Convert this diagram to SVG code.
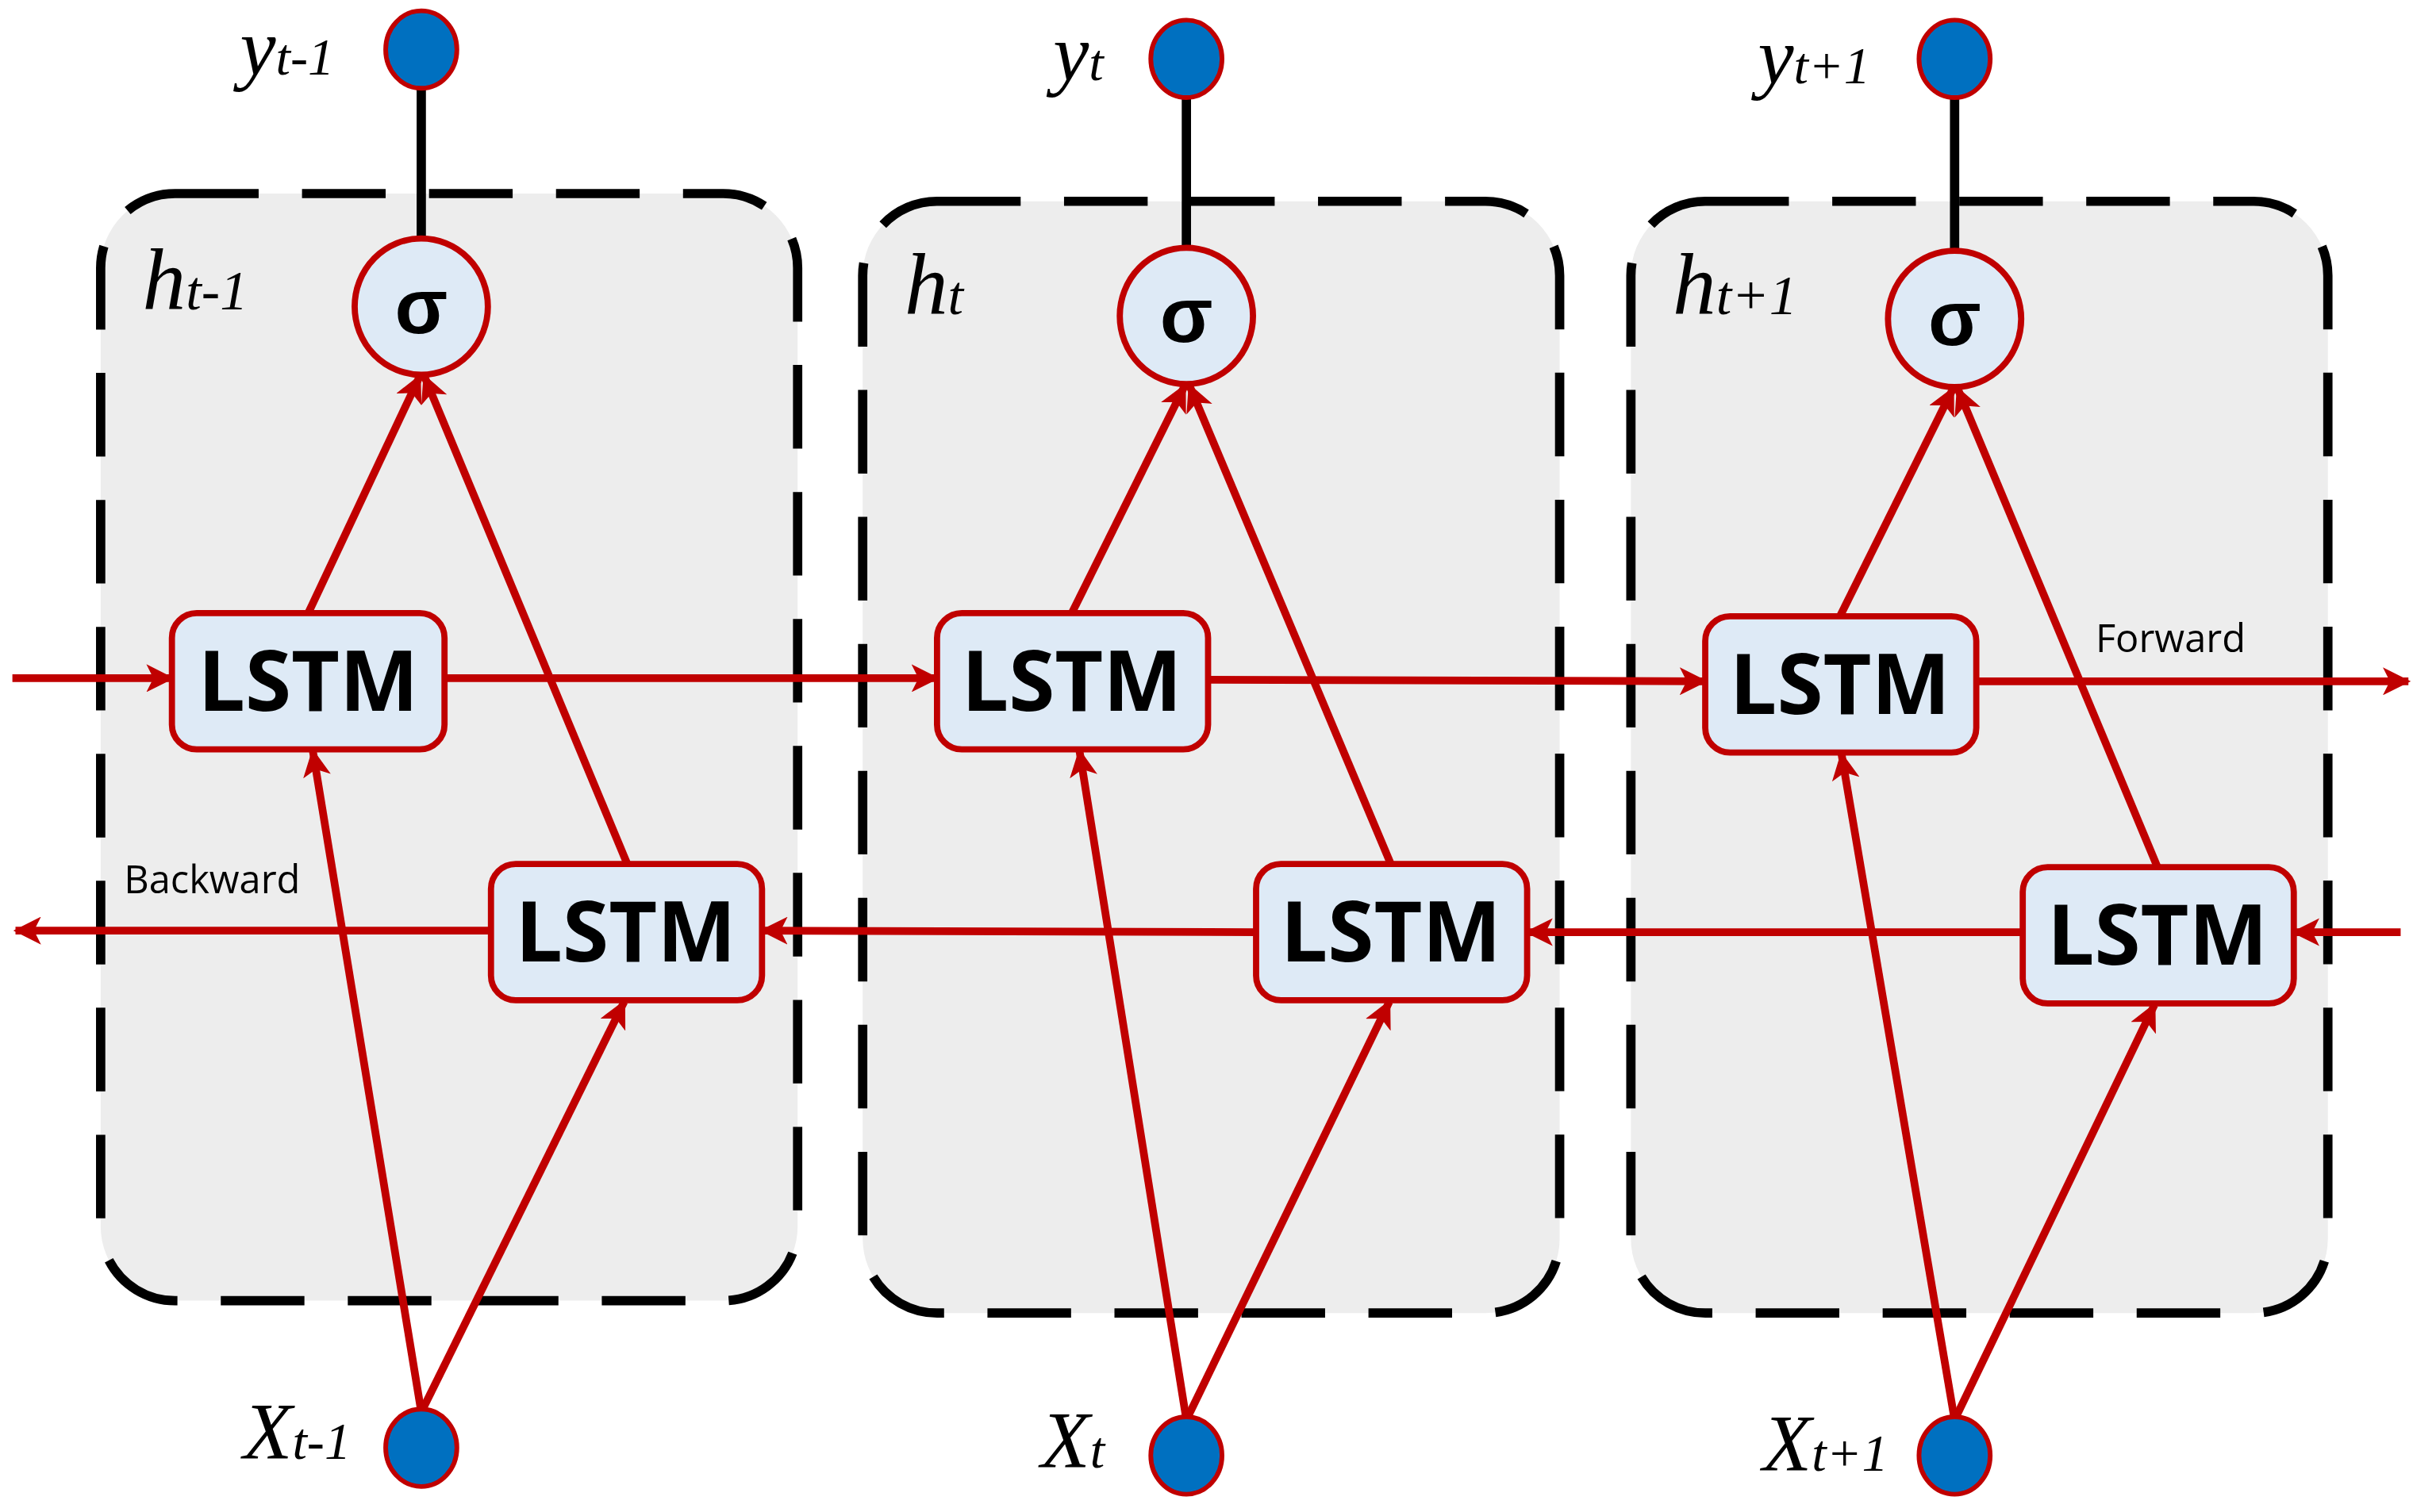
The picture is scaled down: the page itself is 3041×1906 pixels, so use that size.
<svg xmlns="http://www.w3.org/2000/svg" width="3041" height="1906" viewBox="0 0 3041 1906">
<defs>
<marker id="ah" viewBox="0 0 12 12" refX="11" refY="6" markerWidth="18" markerHeight="18" markerUnits="userSpaceOnUse" orient="auto"><path d="M0,0 L12,6 L0,12 L3,6 Z" fill="#C00000"/></marker>
</defs>
<style>
.cell{fill:#EDEDED;stroke:#000;stroke-width:6;stroke-dasharray:54 28}
.box{fill:#DEEAF6;stroke:#C00000;stroke-width:4}
.lbl{font-family:"Open Sans","Liberation Sans",sans-serif;font-weight:bold;font-size:54px;text-anchor:middle;fill:#000}
.sig{font-family:"Liberation Sans",sans-serif;font-weight:bold;font-size:50px;text-anchor:middle}
.io{fill:#0070C0;stroke:#C00000;stroke-width:3}
.ln{stroke:#C00000;stroke-width:5;fill:none;marker-end:url(#ah)}
.it{font-family:"Liberation Serif",serif;font-style:italic;fill:#000}
.sm{font-family:"Open Sans","Liberation Sans",sans-serif;font-size:25px;fill:#000}
</style>
<rect width="3041" height="1906" fill="#fff"/>
<g transform="scale(1.9519)">
<g id="cell1"><rect class="cell" x="65" y="125" width="450" height="715" rx="48"/><text class="it" x="92" y="200" font-size="56">h<tspan font-size="36">t-1</tspan></text></g>
<g id="cell2"><rect class="cell" x="557" y="130" width="450" height="718" rx="48"/><text class="it" x="584" y="203" font-size="56">h<tspan font-size="36">t</tspan></text></g>
<g id="cell3"><rect class="cell" x="1053" y="130" width="450" height="718" rx="48"/><text class="it" x="1080" y="203" font-size="56">h<tspan font-size="36">t+1</tspan></text></g>

<g id="connectors">
<line x1="272" y1="55" x2="272" y2="154" stroke="#000" stroke-width="6"/>
<line x1="766" y1="61" x2="766" y2="160" stroke="#000" stroke-width="6"/>
<line x1="1262" y1="61" x2="1262" y2="162" stroke="#000" stroke-width="6"/>
<line class="ln" x1="8" y1="438" x2="111" y2="438"/>
<line class="ln" x1="287" y1="438" x2="605" y2="438"/>
<line class="ln" x1="780" y1="439" x2="1101" y2="440"/>
<line class="ln" x1="1276" y1="440" x2="1555" y2="440"/>
<line class="ln" x1="1550" y1="602" x2="1481" y2="602"/>
<line class="ln" x1="1306" y1="602" x2="986" y2="602"/>
<line class="ln" x1="811" y1="602" x2="492" y2="601"/>
<line class="ln" x1="317" y1="601" x2="10" y2="601"/>
<line class="ln" x1="199" y1="396" x2="271" y2="243"/>
<line class="ln" x1="405" y1="558" x2="274" y2="243"/>
<line class="ln" x1="272" y1="912" x2="202" y2="485"/>
<line class="ln" x1="272" y1="912" x2="403" y2="647"/>
<line class="ln" x1="692" y1="396" x2="765" y2="249"/>
<line class="ln" x1="898" y1="558" x2="768" y2="249"/>
<line class="ln" x1="766" y1="917" x2="697" y2="485"/>
<line class="ln" x1="766" y1="917" x2="897" y2="647"/>
<line class="ln" x1="1188" y1="398" x2="1261" y2="251"/>
<line class="ln" x1="1393" y1="560" x2="1264" y2="251"/>
<line class="ln" x1="1262" y1="917" x2="1189" y2="487"/>
<line class="ln" x1="1262" y1="917" x2="1391" y2="649"/>
</g>

<g id="y1"><ellipse class="io" cx="272" cy="32" rx="23" ry="25"/><text class="it" x="155" y="48" font-size="52">y<tspan font-size="34">t-1</tspan></text></g>
<g id="y2"><ellipse class="io" cx="766" cy="38" rx="23" ry="25"/><text class="it" x="680" y="52" font-size="52">y<tspan font-size="34">t</tspan></text></g>
<g id="y3"><ellipse class="io" cx="1262" cy="38" rx="23" ry="25"/><text class="it" x="1135" y="54" font-size="52">y<tspan font-size="34">t+1</tspan></text></g>
<g id="s1"><ellipse class="box" cx="272" cy="198" rx="43" ry="44"/><text class="sig" x="272" y="215">σ</text></g>
<g id="s2"><ellipse class="box" cx="766" cy="204" rx="43" ry="44"/><text class="sig" x="766" y="221">σ</text></g>
<g id="s3"><ellipse class="box" cx="1262" cy="206" rx="43" ry="44"/><text class="sig" x="1262" y="223">σ</text></g>
<g id="f1"><rect class="box" x="111" y="396" width="176" height="88" rx="16"/><text class="lbl" x="199" y="459">LSTM</text></g>
<g id="f2"><rect class="box" x="605" y="396" width="175" height="88" rx="16"/><text class="lbl" x="692" y="459">LSTM</text></g>
<g id="f3"><rect class="box" x="1101" y="398" width="175" height="88" rx="16"/><text class="lbl" x="1188" y="461">LSTM</text></g>
<g id="b1"><rect class="box" x="317" y="558" width="175" height="88" rx="16"/><text class="lbl" x="404" y="621">LSTM</text></g>
<g id="b2"><rect class="box" x="811" y="558" width="175" height="88" rx="16"/><text class="lbl" x="898" y="621">LSTM</text></g>
<g id="b3"><rect class="box" x="1306" y="560" width="175" height="88" rx="16"/><text class="lbl" x="1393" y="623">LSTM</text></g>
<g id="x1"><ellipse class="io" cx="272" cy="935" rx="23" ry="25"/><text class="it" x="157" y="942" font-size="52">X<tspan font-size="34">t-1</tspan></text></g>
<g id="x2"><ellipse class="io" cx="766" cy="940" rx="23" ry="25"/><text class="it" x="672" y="948" font-size="52">X<tspan font-size="34">t</tspan></text></g>
<g id="x3"><ellipse class="io" cx="1262" cy="940" rx="23" ry="25"/><text class="it" x="1138" y="950" font-size="52">X<tspan font-size="34">t+1</tspan></text></g>
<text class="sm" x="1353" y="421">Forward</text>
<text class="sm" x="80" y="577">Backward</text>
</g>
</svg>
